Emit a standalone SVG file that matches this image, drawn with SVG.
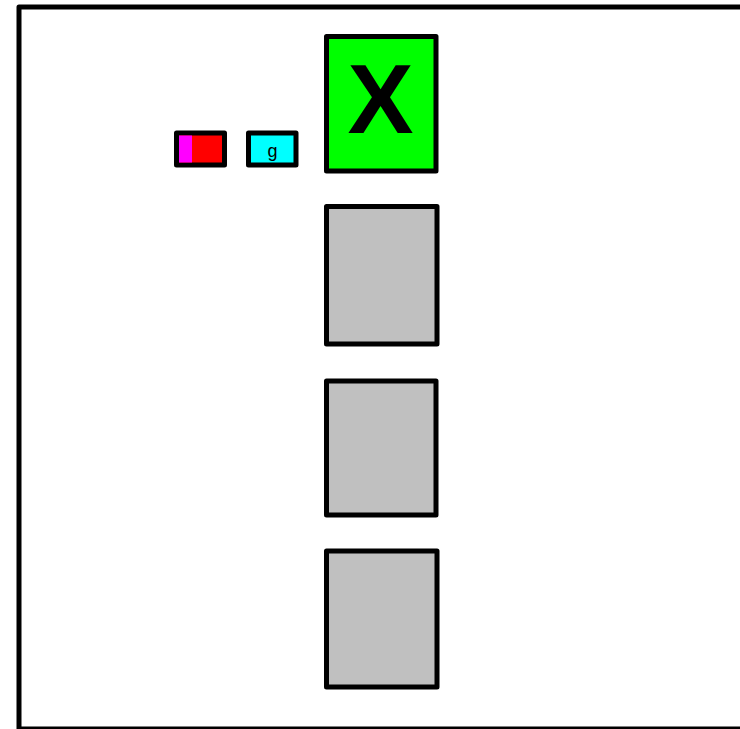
<svg xmlns="http://www.w3.org/2000/svg" width="740" height="729" viewBox="0 0 740 729">
  <style>
    .box { stroke: #000; stroke-width: 5; stroke-linejoin: round; }
    .gray { fill: #c0c0c0; }
    .lbl { font-family: "Liberation Sans", Arial, sans-serif; fill: #000; text-anchor: middle; }
  </style>
  <rect width="740" height="729" fill="#fff"/>
  <g id="frame">
    <rect x="19" y="7" width="740" height="722" fill="none" class="box"/>
  </g>
  <g id="node-small-red">
    <rect x="176.5" y="133" width="48" height="32" fill="#ff0000" class="box"/>
    <rect x="179" y="135.5" width="13" height="27" fill="#ff00ff"/>
  </g>
  <g id="node-g">
    <rect x="248.5" y="133" width="47.5" height="32" fill="#00ffff" class="box"/>
    <text x="272.5" y="157" font-size="18" class="lbl">g</text>
  </g>
  <g id="node-x">
    <rect x="326.5" y="36.5" width="109.5" height="134.5" fill="#00ff00" class="box"/>
    <text x="380.5" y="133" font-size="99" font-weight="bold" class="lbl">X</text>
  </g>
  <g id="node-gray1">
    <rect x="326.5" y="206.5" width="110.5" height="137.5" class="box gray"/>
  </g>
  <g id="node-gray2">
    <rect x="326.5" y="381" width="109.5" height="134" class="box gray"/>
  </g>
  <g id="node-gray3">
    <rect x="326.5" y="551" width="110.5" height="136" class="box gray"/>
  </g>
  <g id="connectors"></g>
</svg>
